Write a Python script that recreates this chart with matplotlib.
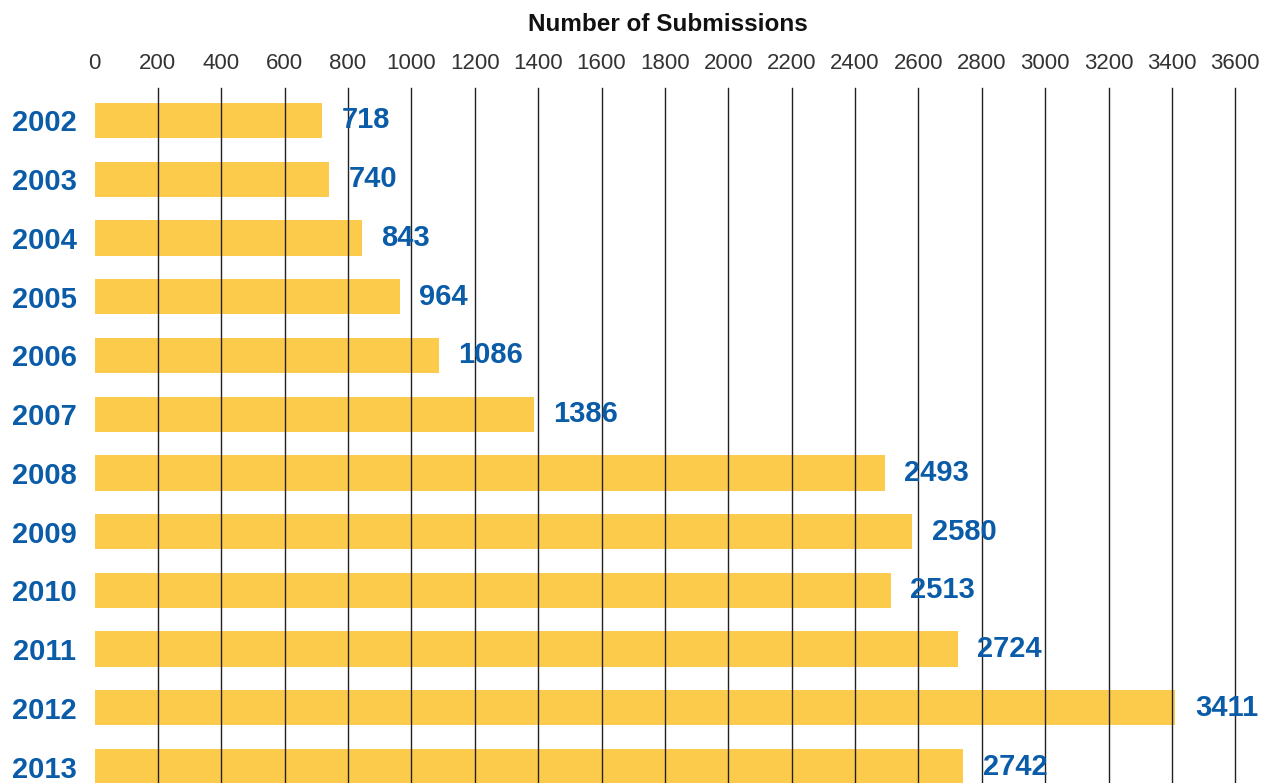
import matplotlib.pyplot as plt

# data
years = ["2002", "2003", "2004", "2005", "2006", "2007",
         "2008", "2009", "2010", "2011", "2012", "2013"]
submissions = [718, 740, 843, 964, 1086, 1386, 2493, 2580, 2513, 2724, 3411, 2742]
x_ticks = list(range(0, 3601, 200))

bar_color = "#fdcb4b"
blue = "#0a5ca8"
font = "Liberation Sans"

fig = plt.figure(figsize=(12.64, 7.83), dpi=100)
ax = fig.add_axes([0.0748, 0.0, 0.9025, 0.8876])

y = list(range(len(years)))
ax.barh(y, submissions, height=0.6, color=bar_color, zorder=1)

# vertical grid lines drawn over the bars
for t in x_ticks[1:]:
    ax.axvline(t, color="#222222", linewidth=1.0, zorder=2, clip_on=False)

for yi, v in zip(y, submissions):
    ax.annotate(str(v), xy=(v, yi), xytext=(14, 0), textcoords="offset points",
                ha="left", va="center", color=blue, fontsize=21,
                fontweight="bold", family=font, zorder=3)

ax.set_xlim(0, 3600)
ax.set_ylim(11.28, -0.553)

ax.xaxis.tick_top()
ax.set_xticks(x_ticks)
ax.set_xticklabels([str(t) for t in x_ticks], fontsize=16, color="#333333",
                   family=font)
ax.set_yticks(y)
ax.set_yticklabels(years, fontsize=21, fontweight="bold", color=blue,
                   family=font)
ax.tick_params(axis="x", length=0, pad=10)
ax.tick_params(axis="y", length=0, pad=13)

for s in ax.spines.values():
    s.set_visible(False)

fig.text(0.528, 0.969, "Number of Submissions", ha="center", va="center",
         fontsize=17.5, fontweight="bold", family=font, color="#111111")

fig.savefig("out.png", dpi=100)
